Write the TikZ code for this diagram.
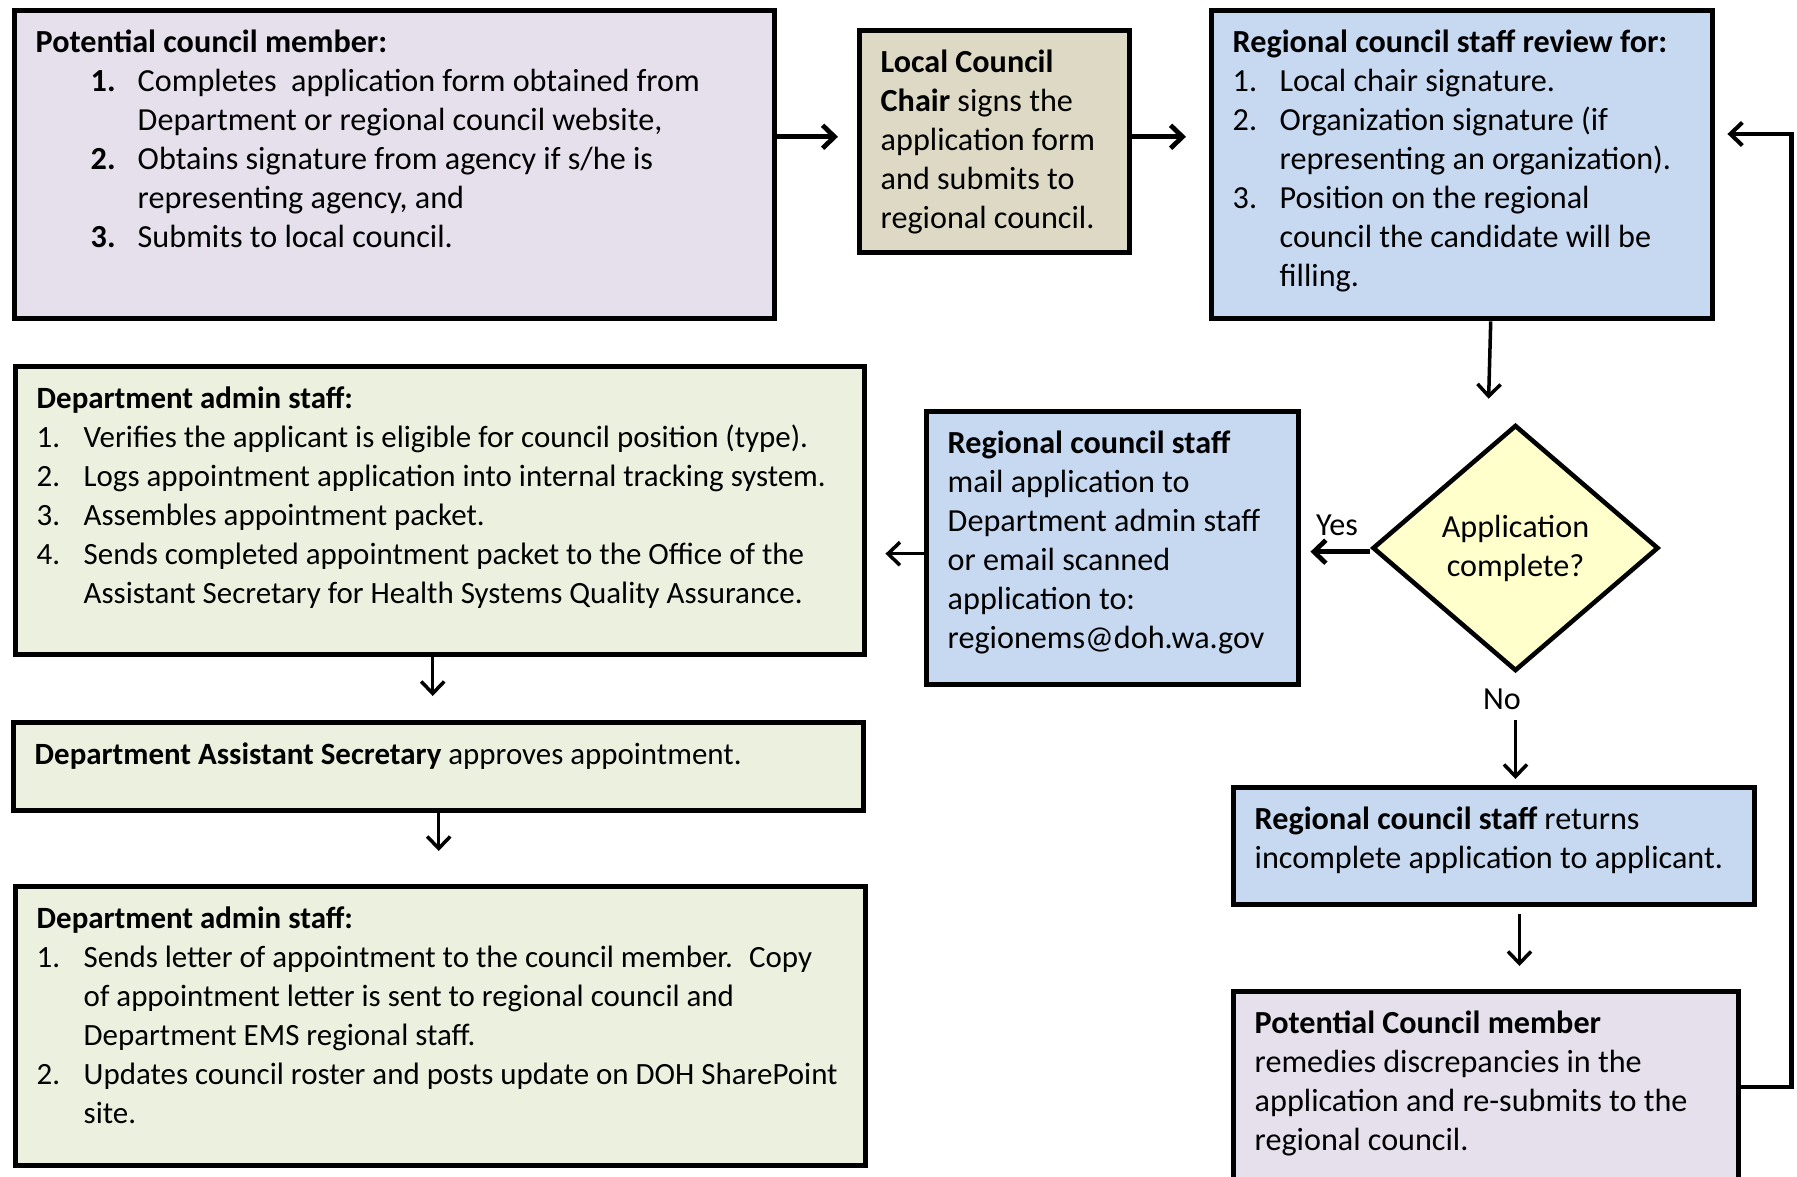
\documentclass[tikz,border=0pt]{standalone}
\usepackage{fontspec}
\setmainfont{Carlito}
\usetikzlibrary{shapes.geometric,arrows.meta}
\definecolor{lavbox}{HTML}{E5E0EC}
\definecolor{tanbox}{HTML}{DDD9C4}
\definecolor{bluebox}{HTML}{C6D9F1}
\definecolor{greenbox}{HTML}{EBF1DE}
\definecolor{yellowbox}{HTML}{FFFFCC}
\newcommand{\boxtext}[3]{\parbox[t][\dimexpr#2cm-0.29cm\relax][t]{\dimexpr#1cm-0.22cm\relax}{\raggedright\leftskip=0.1cm\strut#3}}
\newcommand{\stepitem}[2]{\par\hangindent=0.47cm\hangafter=1\noindent\makebox[0.47cm][l]{#1}#2}
\tikzset{
    stepbox/.style={draw,line width=1.55pt,anchor=north west,inner xsep=0.11cm,inner ysep=0.145cm},
    adminbox/.style={stepbox,fill=greenbox,font=\fontsize{8.8}{11.1}\selectfont},
    decision/.style={diamond,draw,line width=1.3pt,fill=yellowbox,minimum width=2.86cm,minimum height=2.46cm,inner sep=0pt,align=center},
    answer/.style={inner sep=0pt},
    flow/.style={-{Straight Barb[length=1.2mm,width=2.3mm]},line width=1pt},
    thickflow/.style={flow,line width=1.35pt}
}

\begin{document}
\begin{tikzpicture}[font=\fontsize{9.15}{11.1}\selectfont]
\useasboundingbox (0,0) rectangle (17.97,-11.77);
\clip (0,0) rectangle (17.97,-11.77);

\node[stepbox,fill=lavbox] (pcm) at (0.12,-0.075) {\boxtext{7.595}{3.085}{\textbf{Potential council member:}\par\advance\leftskip by 0.55cm
\stepitem{\textbf{1.}}{Completes~ application form obtained from\newline Department or regional council website,}
\stepitem{\textbf{2.}}{Obtains signature from agency if s/he is\newline representing agency, and}
\stepitem{\textbf{3.}}{Submits to local council.}}};
\node[stepbox,fill=tanbox] (lcc) at (8.57,-0.275) {\boxtext{2.70}{2.225}{\textbf{Local Council}\newline\textbf{Chair} signs the\newline application form\newline and submits to\newline regional council.}};
\node[stepbox,fill=bluebox] (rcr) at (12.09,-0.08) {\boxtext{5.01}{3.08}{\textbf{Regional council staff review for:}
\stepitem{1.}{Local chair signature.}
\stepitem{2.}{Organization signature (if\newline representing an organization).}
\stepitem{3.}{Position on the regional\newline council the candidate will be\newline filling.}}};

\node[decision] (dia) at (15.155,-5.48) {Application\\complete?};
\node[stepbox,fill=bluebox] (mail) at (9.24,-4.09) {\boxtext{3.72}{2.73}{\textbf{Regional council staff}\newline mail application to\newline Department admin staff\newline or email scanned\newline application to:\newline regionems@doh.wa.gov}};
\node[adminbox] (adm) at (0.13,-3.64) {\boxtext{8.49}{2.88}{\textbf{Department admin staff:}
\stepitem{1.}{Verifies the applicant is eligible for council position (type).}
\stepitem{2.}{Logs appointment application into internal tracking system.}
\stepitem{3.}{Assembles appointment packet.}
\stepitem{4.}{Sends completed appointment packet to the Office of the\newline Assistant Secretary for Health Systems Quality Assurance.}}};

\node[adminbox] (asec) at (0.11,-7.20) {\boxtext{8.50}{0.88}{\textbf{Department Assistant Secretary} approves appointment.}};
\node[adminbox] (adm2) at (0.13,-8.84) {\boxtext{8.50}{2.79}{\textbf{Department admin staff:}
\stepitem{1.}{Sends letter of appointment to the council member.~ Copy\newline of appointment letter is sent to regional council and\newline Department EMS regional staff.}
\stepitem{2.}{Updates council roster and posts update on DOH SharePoint\newline site.}}};
\node[stepbox,fill=bluebox] (ret) at (12.31,-7.85) {\boxtext{5.21}{1.17}{\textbf{Regional council staff} returns\newline incomplete application to applicant.}};
\node[stepbox,fill=lavbox] (pcm2) at (12.31,-9.89) {\boxtext{5.05}{1.90}{\textbf{Potential Council member}\newline remedies discrepancies in the\newline application and re-submits to the\newline regional council.}};

\node[answer] (yes) at (13.37,-5.25) {Yes};
\node[answer] (no) at (15.02,-6.99) {No};
\coordinate (lccin) at ([yshift=0.047cm]lcc.west);
\coordinate (lccout) at ([yshift=0.047cm]lcc.east);
\coordinate (diaout) at ([yshift=-0.037cm]dia.west);
\coordinate (mailout) at ([yshift=-0.055cm]mail.west);
\coordinate (nox) at ([xshift=0.04cm]dia.south);
\coordinate (fbtop) at (17.915,-1.34);

% top row
\draw[thickflow,shorten >=0.19cm] (pcm.east |- lccin)--(lccin);
\draw[thickflow,shorten >=0.23cm] (lccout)--(lccout -| rcr.west);
\draw[flow,shorten >=0.24cm] ([xshift=0.285cm]rcr.south)--([xshift=-0.275cm]dia.north);

% decision
\draw[thickflow,shorten >=0.09cm] (diaout)--(diaout -| mail.east);
\draw[flow,shorten >=0.18cm] (mailout)--(mailout -| adm.east);
\draw[flow,shorten <=0.21cm,shorten >=0.06cm] (dia.south |- no)--(dia.south |- ret.north);
\draw[flow,shorten <=0.07cm,shorten >=0.23cm] (nox |- ret.south)--(nox |- pcm2.north);

% left column
\draw[flow,shorten >=0.24cm] ([xshift=-0.075cm]adm.south)--([xshift=-0.075cm]adm.south |- asec.north);
\draw[flow,shorten >=0.33cm] (asec.south)--(asec.south |- adm2.north);

% back to review
\draw[thickflow,line width=1.15pt,shorten >=0.12cm] (pcm2.east) -| (fbtop)--(rcr.east |- fbtop);

\end{tikzpicture}
\end{document}
